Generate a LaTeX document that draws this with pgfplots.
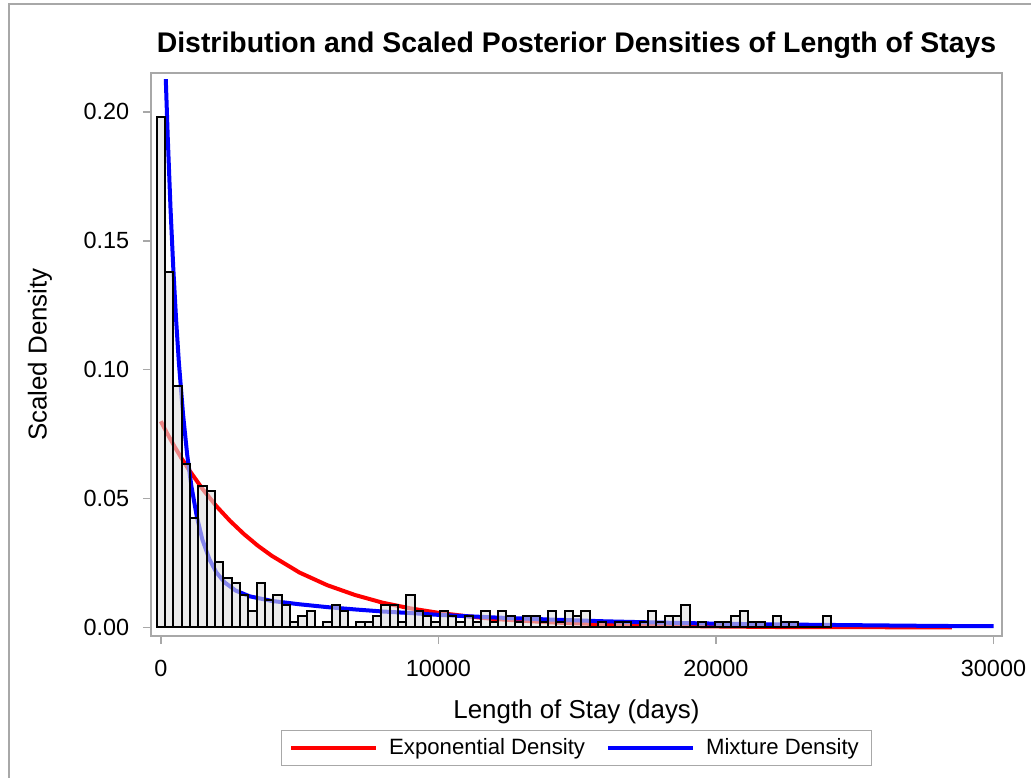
\documentclass[border=0pt]{standalone}
\usepackage{pgfplots}
\pgfplotsset{compat=1.18}
\usepackage{fontspec}
\setmainfont{Liberation Sans}
\definecolor{framegray}{RGB}{168,168,168}
\definecolor{barfill}{RGB}{222,222,222}
\begin{document}
\begin{tikzpicture}[x=1bp,y=1bp]
% page 1031x778 px, 1 px = 0.4 bp, origin at the lower left corner of the frame
\useasboundingbox (-60.4,-56.8) rectangle (352.0,254.4);
\draw[framegray, line width=0.5bp] (-56.8,-56.8) -- (-56.8,252.8) -- (352.0,252.8);
\begin{axis}[
  at={(0,0)}, anchor=south west,
  width=340.4bp, height=225.2bp, scale only axis,
  xmin=-353, xmax=30306, ymin=-0.0033, ymax=0.2151,
  axis line style={framegray, line width=0.6bp},
  tick style={framegray, line width=0.6bp},
  tick align=outside, major tick length=3.2bp,
  xtick={0,10000,20000,30000}, ytick={0,0.05,0.10,0.15,0.20},
  xtick pos=left, ytick pos=left,
  scaled x ticks=false, scaled y ticks=false,
  /pgf/number format/assume math mode=true,
  xticklabel style={/pgf/number format/1000 sep={}, yshift=-3bp},
  yticklabel style={/pgf/number format/fixed, /pgf/number format/precision=2,
    /pgf/number format/fixed zerofill, xshift=-2bp},
  ticklabel style={font=\fontsize{9.4}{11}\selectfont},
  xlabel={Length of Stay (days)}, ylabel={Scaled Density},
  label style={font=\fontsize{10.4}{12}\selectfont},
  xlabel style={at={(rel axis cs:0.5,0)}, anchor=center, yshift=-30.4bp},
  ylabel style={at={(rel axis cs:0,0.5)}, anchor=center, yshift=44.4bp},
  title={Distribution and Scaled Posterior Densities of Length of Stays},
  every axis title shift=0pt,
  title style={font=\bfseries\fontsize{11.4}{13}\selectfont,
    at={(rel axis cs:0.5,1)}, anchor=center, yshift=11.2bp},
  legend columns=2,
  legend style={at={(rel axis cs:0.5,0)}, anchor=center, yshift=-44.8bp,
    draw=framegray, line width=0.5bp, font=\fontsize{8.9}{10}\selectfont,
    inner xsep=3bp, inner ysep=1bp,
    /tikz/every odd column/.append style={column sep=2.4bp},
    /tikz/every even column/.append style={column sep=6.4bp}},
  legend image code/.code={\draw[#1, line width=1.6bp] (0bp,0bp) -- (34bp,0bp);},
]
\addplot[red, line width=1.6bp] coordinates {
(0,0.0800) (250,0.0749) (500,0.0701) (750,0.0656) (1000,0.0614) (1500,0.0538)
(2000,0.0471) (2500,0.0413) (3000,0.0362) (3500,0.0317) (4000,0.0278)
(5000,0.0213) (6000,0.0164) (7000,0.0126) (8000,0.0096) (9000,0.0074)
(10000,0.0057) (11000,0.0044) (12000,0.0033) (14000,0.0020) (16000,0.0012)
(18000,0.0007) (20000,0.0004) (22000,0.0002) (24000,0.0001) (26000,0.0001)
(28500,0.0000)};
\addlegendentry{Exponential Density}
\addplot[blue, line width=1.6bp] coordinates {
(180,0.2127) (250,0.1903) (350,0.1626) (450,0.1394) (550,0.1197) (650,0.1030)
(800,0.0829) (950,0.0671) (1100,0.0550) (1300,0.0429) (1500,0.0340)
(1750,0.0265) (2000,0.0214) (2300,0.0175) (2700,0.0143) (3200,0.0121)
(4000,0.0103) (5000,0.0090) (6000,0.0079) (7000,0.0070) (8000,0.0062)
(9000,0.0056) (10000,0.0049) (12000,0.0039) (14000,0.0031) (16000,0.0024)
(18000,0.0019) (20000,0.0015) (22000,0.0012) (24000,0.0010) (26000,0.0008)
(28000,0.0006) (30000,0.0005)};
\addlegendentry{Mixture Density}
\addplot[ybar interval, fill=barfill, fill opacity=0.6, draw=black,
  line width=0.8bp, forget plot] table {
x y
-150 0.1980
150 0.1380
450 0.0935
750 0.0635
1050 0.0425
1350 0.0550
1650 0.0530
1950 0.0255
2250 0.0193
2550 0.0171
2850 0.0128
3150 0.0064
3450 0.0171
3750 0.0107
4050 0.0128
4350 0.0086
4650 0.0021
4950 0.0043
5250 0.0064
5550 0
5850 0.0021
6150 0.0086
6450 0.0064
6750 0
7050 0.0021
7350 0.0021
7650 0.0043
7950 0.0086
8250 0.0086
8550 0.0021
8850 0.0128
9150 0.0064
9450 0.0043
9750 0.0021
10050 0.0064
10350 0.0043
10650 0.0021
10950 0.0043
11250 0.0021
11550 0.0064
11850 0.0021
12150 0.0064
12450 0.0043
12750 0.0021
13050 0.0043
13350 0.0043
13650 0.0021
13950 0.0064
14250 0.0021
14550 0.0064
14850 0.0043
15150 0.0064
15450 0
15750 0.0021
16050 0
16350 0.0021
16650 0.0021
16950 0
17250 0.0021
17550 0.0064
17850 0.0021
18150 0.0043
18450 0.0043
18750 0.0086
19050 0
19350 0.0021
19650 0
19950 0.0021
20250 0.0021
20550 0.0043
20850 0.0064
21150 0.0021
21450 0.0021
21750 0
22050 0.0043
22350 0.0021
22650 0.0021
22950 0
23250 0
23550 0
23850 0.0043
24150 0
};
\end{axis}
\end{tikzpicture}
\end{document}
